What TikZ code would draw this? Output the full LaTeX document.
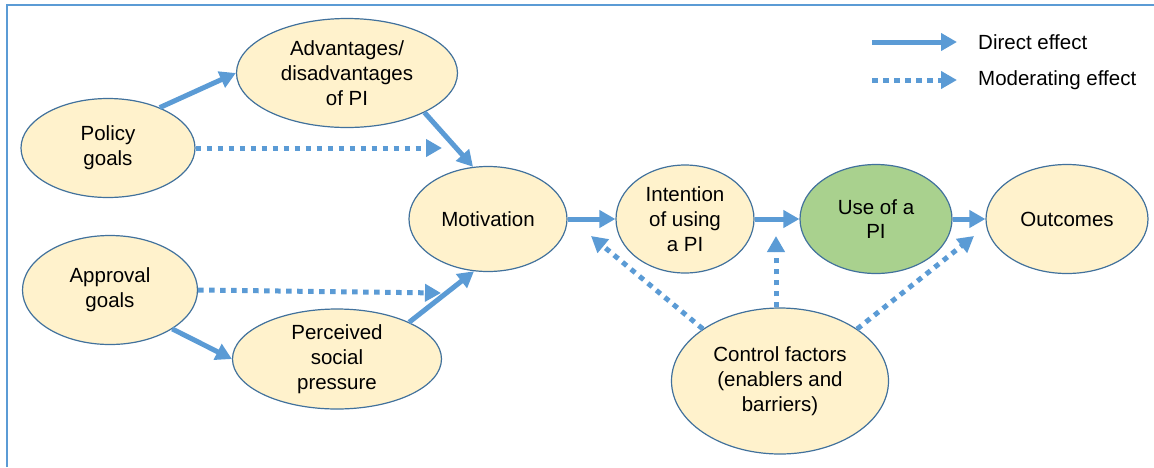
\documentclass[tikz,border=0pt]{standalone}
\usepackage{fontspec}
\setmainfont{Liberation Sans}
\definecolor{arrowblue}{RGB}{91,155,213}
\definecolor{edgeblue}{RGB}{65,113,156}
\definecolor{lightyellow}{RGB}{255,242,204}
\definecolor{lightgreen}{RGB}{169,209,142}
\usetikzlibrary{arrows.meta, positioning, shapes.geometric}
\tikzset{
>={Triangle[length=16pt, width=17pt]}, % wide flat heads as in the legend
node distance=191pt, % centre to centre along the main row
factor/.style={ellipse, draw=edgeblue, line width=1.2pt, fill=lightyellow, align=center, inner sep=0pt, font=\fontsize{20.5}{24.7}\selectfont}, % every ellipse of the model
direct/.style={-{Triangle[length=16pt, width=17pt]}, draw=arrowblue, line width=5pt}, % solid arrow
moderating/.style={direct, dash pattern=on 5.5pt off 5.5pt}, % dotted arrow
frame/.style={draw=arrowblue, line width=2.5pt}, % border round the figure
}
\tikzset{
  selected/.append style={factor, fill=lightgreen}
}

\begin{document}
\begin{tikzpicture}[x=1pt, y=1pt]
      \useasboundingbox (0,0) rectangle (1154,-467);
      \draw[frame] (7,-467) -- (7,-5) -- (1154,-5);

      \node[factor, minimum width=174pt, minimum height=99pt] (policy) at (108,-148) {Policy\\goals};
      \node[factor, minimum width=221pt, minimum height=109pt] (adv) at (347,-73) {Advantages/\\disadvantages\\of PI};
      \node[factor, minimum width=175pt, minimum height=109pt] (approval) at (110,-290) {Approval\\goals};
      \node[factor, minimum width=209pt, minimum height=100pt] (perceived) at (337,-359) {Perceived\\social\\pressure};
      \node[factor, minimum width=158pt, minimum height=105pt] (motiv) at (488,-219) {Motivation};
      \node[factor, right of=motiv, xshift=6pt, minimum width=138pt, minimum height=108pt] (intent) {Intention\\of using\\a PI};
      \node[selected, right of=intent, minimum width=152pt, minimum height=109pt] (use) {Use of a\\PI};
      \node[factor, right of=use, minimum width=162pt, minimum height=109pt] (outcomes) {Outcomes};
      \node[factor, minimum width=217pt, minimum height=146pt] (control) at (780,-381) {Control factors\\(enablers and\\barriers)};

      % free ends of the dotted arrows
      \coordinate (policyend) at (442,-148);
      \coordinate (approvalend) at (441,-293);
      \coordinate (ctrlintent) at (591,-236);
      \coordinate (ctrluse) at (776,-236);
      \coordinate (ctrlout) at (974,-236);

      \draw[direct] (policy.38) -- (adv.west);
      \draw[direct] (adv.-27) -- (motiv.106);
      \draw[direct] (approval.-32) -- (perceived.west);
      \draw[direct] (perceived.27) -- (motiv.255);
      \draw[direct] (motiv.east) -- (intent.west);
      \draw[direct] (intent.east) -- (use.west);
      \draw[direct] (use.east) -- (outcomes.west);

      \draw[moderating] (policy.east) -- (policyend);
      \draw[moderating] (approval.east) -- (approvalend);
      \draw[moderating] (control.146) -- (ctrlintent);
      \draw[moderating] (control.north -| ctrluse) -- (ctrluse);
      \draw[moderating] (control.34) -- (ctrlout);

      % legend
      \coordinate (directstart) at (872,-42);
      \coordinate (directend) at (957,-42);
      \coordinate (modstart) at (872,-80);
      \coordinate (modend) at (957,-80);
      \draw[direct] (directstart) -- (directend);
      \draw[moderating] (modstart) -- (modend);
      \node[anchor=west, inner sep=0pt, font=\fontsize{20.5}{24.7}\selectfont] (directtext) at (978,-42) {Direct effect};
      \node[anchor=west, inner sep=0pt, font=\fontsize{20.5}{24.7}\selectfont] (modtext) at (978,-80) {Moderating effect};
    \end{tikzpicture}
\end{document}
